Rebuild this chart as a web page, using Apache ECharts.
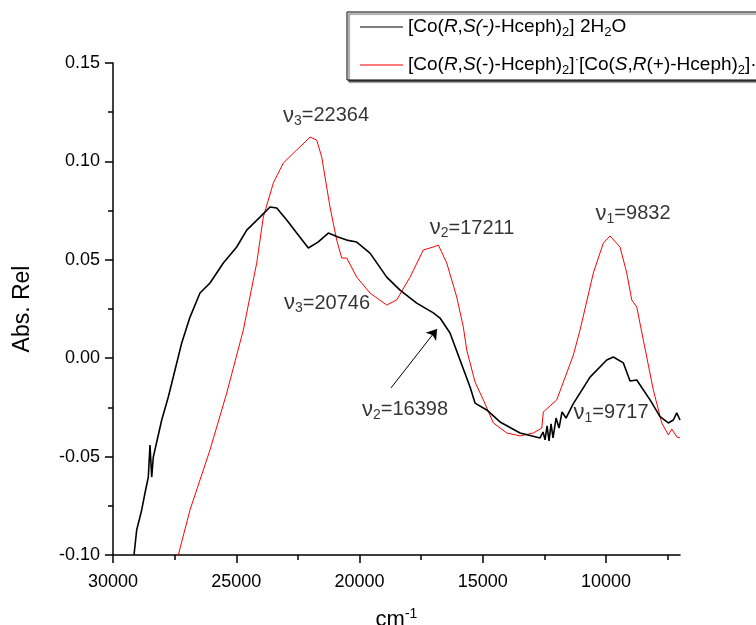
<!DOCTYPE html>
<html><head><meta charset="utf-8">
<script src="https://cdn.jsdelivr.net/npm/echarts@6/dist/echarts.min.js"></script>
<style>html,body{margin:0;padding:0;background:#fff}#c{width:756px;height:625px}</style>
</head><body><div id="c"></div>
<script>
// ---- data ----
const blackX = [29148,29039,28836,28702,28568,28499,28430,28365,28024,27757,27485,27213,26876,26471,26065,25525,24982,24576,24037,23631,23359,22953,22548,22077,21684,21266,20872,20519,20114,19574,18897,18357,17680,17006,16734,16329,15923,15517,15314,14840,14300,13489,12677,12555,12475,12393,12312,12231,12150,12028,11907,11785,11623,11339,10649,9972,9704,9298,9026,8755,8215,7809,7473,7270,7132,7000];
const blackY = [-0.100,-0.0873,-0.0771,-0.0685,-0.0604,-0.0441,-0.0604,-0.0502,-0.0314,-0.0197,-0.0060,0.0077,0.0209,0.0331,0.0382,0.0484,0.0565,0.0651,0.0717,0.0768,0.0763,0.0702,0.0636,0.0560,0.0590,0.0636,0.0616,0.0600,0.0590,0.0534,0.0412,0.0346,0.0280,0.0230,0.0204,0.0128,-0.0009,-0.0146,-0.0228,-0.0263,-0.0324,-0.0380,-0.0405,-0.0375,-0.0415,-0.0344,-0.0420,-0.0334,-0.0405,-0.0304,-0.0355,-0.0273,-0.0304,-0.0233,-0.0096,-0.0009,0.0006,-0.0024,-0.0116,-0.0111,-0.0212,-0.0297,-0.0329,-0.0314,-0.0278,-0.0314];
const redX = [27351,26876,26065,25387,24714,24170,23903,23497,23091,22548,22211,22008,21736,21533,21197,20925,20722,20519,20114,19574,18897,18491,17951,17412,17006,16803,16463,16057,15789,15651,15314,14978,14572,14028,13489,12949,12608,12544,12000,11594,11326,11055,10515,10110,9838,9432,9160,8957,8755,8487,8081,7740,7473,7334,7132,7000];
const redY = [-0.100,-0.0771,-0.0466,-0.0177,0.0143,0.0484,0.0717,0.0890,0.0992,0.1058,0.1098,0.1124,0.1108,0.1022,0.0768,0.0600,0.0509,0.0509,0.0412,0.0331,0.0270,0.0296,0.0412,0.0550,0.0565,0.0575,0.0484,0.0311,0.0158,0.0042,-0.0121,-0.0212,-0.0329,-0.0380,-0.0395,-0.0380,-0.0355,-0.0273,-0.0212,-0.0075,0.0016,0.0143,0.0433,0.0585,0.0621,0.0565,0.0433,0.0296,0.0260,0.0092,-0.0162,-0.0329,-0.0390,-0.0360,-0.0400,-0.0405];

const seriesNames = ['[Co(R,S(-)-Hceph)2] 2H2O', '[Co(R,S(-)-Hceph)2]·[Co(S,R(+)-Hceph)2]·2H2O'];
const legendLabels = ['[Co({i|R},{i|S(-)}-Hceph){sub|2}] 2H{sub|2}O',
                      '[Co({i|R},{i|S}(-)-Hceph){sub|2}]{dot|·}[Co({i|S},{i|R}(+)-Hceph){sub|2}]·2H{sub|2}O'];

const xMajorTicks = [10000,15000,20000,25000,30000];
const xMinorTicks = [7500,12500,17500,22500,27500];
const yTickLabels = ['-0.10','-0.05','0.00','0.05','0.10','0.15'];

const annoX = [21359,15436,21318,18154,9797,8905];
const annoY = [0.1231,0.0661,0.0280,-0.0263,-0.0278,0.0733];
const annoSub = ['3','2','3','2','1','1'];
const annoVal = ['22364','17211','20746','16398','9717','9832'];
const arrowFrom = [18722,-0.0151];
const arrowTo = [16856,0.0148];

// ---- chart ----
const F = '"Liberation Sans", Arial, sans-serif';
const legendRich = {
  i:{fontStyle:'italic', fontSize:19, fontFamily:F, color:'#000', lineHeight:24},
  sub:{fontSize:13, fontFamily:F, color:'#000', lineHeight:13, verticalAlign:'bottom', padding:[11,0,0,0]},
  dot:{fontSize:13, fontFamily:F, color:'#000', lineHeight:13, verticalAlign:'top', padding:[0,0,11,0]}
};
const annoRich = {
  nu:{fontSize:22, fontFamily:F, color:'#000', lineHeight:24},
  sub:{fontSize:14, fontFamily:F, color:'#000', lineHeight:14, verticalAlign:'bottom', padding:[10,0,0,0]}
};
const nameRich = {
  sup:{fontSize:14, fontFamily:F, color:'#000', lineHeight:14, verticalAlign:'top', padding:[0,0,12,0]}
};
const chart = echarts.init(document.getElementById('c'), null, {renderer:'canvas'});
chart.setOption({
  animation:false,
  backgroundColor:'#fff',
  grid:{left:113, right:76, top:63, bottom:70, containLabel:false, outerBoundsMode:'none'},
  legend:{
    orient:'vertical', left:347, top:12, padding:[3,14,3,13], itemGap:14,
    itemWidth:43, itemHeight:1, icon:'rect',
    data:[{name:seriesNames[0]},{name:seriesNames[1]}],
    formatter:n => legendLabels[seriesNames.indexOf(n)],
    textStyle:{fontSize:19, fontFamily:F, color:'#000', lineHeight:24, rich:legendRich},
    borderColor:'#000', borderWidth:1, backgroundColor:'#fff',
    shadowColor:'#555', shadowOffsetX:2, shadowOffsetY:2, shadowBlur:1,
    selectedMode:false
  },
  xAxis:[{
    type:'value', min:7000, max:30000, inverse:true, position:'bottom',
    axisLine:{show:true, onZero:false, lineStyle:{color:'#000', width:1.5}},
    axisTick:{show:true, inside:false, length:8, customValues:xMajorTicks, lineStyle:{color:'#000', width:1.5}},
    axisLabel:{show:true, customValues:xMajorTicks, margin:18, fontSize:18, fontFamily:F, color:'#000',
      formatter:v => String(v)},
    splitLine:{show:false},
    name:'cm{sup|-1}', nameLocation:'middle', nameGap:52,
    nameTextStyle:{fontSize:22, fontFamily:F, color:'#000', lineHeight:26, rich:nameRich}
  },{
    type:'value', min:7000, max:30000, inverse:true, position:'bottom', offset:0,
    axisLine:{show:false, onZero:false},
    axisTick:{show:true, inside:false, length:5, customValues:xMinorTicks, lineStyle:{color:'#000', width:1.5}},
    axisLabel:{show:false}, splitLine:{show:false}
  }],
  yAxis:{
    type:'value', min:-0.10, max:0.15, interval:0.05,
    axisLine:{show:true, onZero:false, lineStyle:{color:'#000', width:1.5}},
    axisTick:{show:true, length:8, lineStyle:{color:'#000', width:1.5}},
    minorTick:{show:true, splitNumber:2, length:5, lineStyle:{color:'#000', width:1.5}},
    axisLabel:{margin:13, fontSize:18, fontFamily:F, color:'#000',
      formatter:v => yTickLabels[Math.round((v + 0.10) / 0.05)]},
    splitLine:{show:false}, minorSplitLine:{show:false},
    name:'Abs. Rel', nameLocation:'middle', nameGap:79, nameRotate:90,
    nameTextStyle:{fontSize:23, fontFamily:F, color:'#000'}
  },
  series:[{
    type:'line', name:seriesNames[1], xAxisIndex:0,
    data:redX.map((x,i)=>[x, redY[i]]),
    showSymbol:false, symbol:'none', clip:true, z:2,
    lineStyle:{color:'#ff0000', width:1}, itemStyle:{color:'#ff0000'}
  },{
    type:'line', name:seriesNames[0], xAxisIndex:0,
    data:blackX.map((x,i)=>[x, blackY[i]]),
    showSymbol:false, symbol:'none', clip:true, z:3,
    lineStyle:{color:'#000', width:1.6}, itemStyle:{color:'#000'}
  },{
    type:'scatter', name:'annotations', xAxisIndex:0, silent:true, z:4,
    data:annoX.map((x,i)=>[x, annoY[i]]),
    symbol:'circle', symbolSize:1, itemStyle:{color:'rgba(0,0,0,0)'},
    label:{show:true, position:'inside', fontSize:20, fontFamily:F, color:'#000', lineHeight:24, rich:annoRich,
      formatter:p => '{nu|ν}{sub|' + annoSub[p.dataIndex] + '}=' + annoVal[p.dataIndex]},
    markLine:{silent:true, animation:false, symbol:['none','arrow'], symbolSize:10,
      lineStyle:{color:'#000', width:1, type:'solid'}, label:{show:false},
      data:[[{coord:arrowFrom},{coord:arrowTo}]]}
  }]
});
</script></body></html>
